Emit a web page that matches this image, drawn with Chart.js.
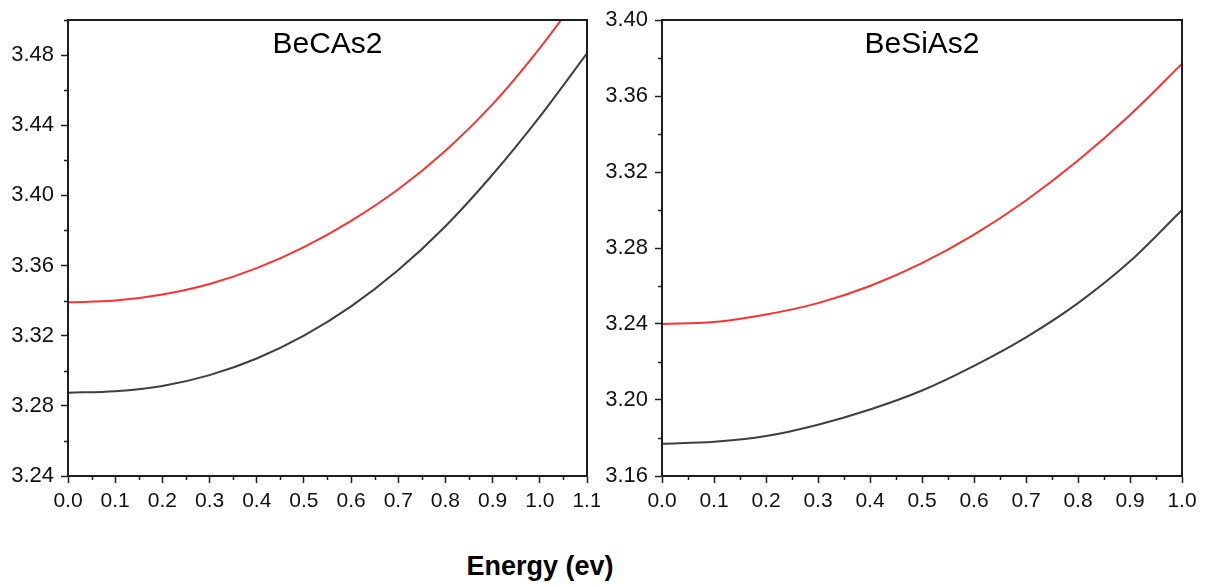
<!DOCTYPE html>
<html>
<head>
<meta charset="utf-8">
<script src="https://cdn.jsdelivr.net/npm/chart.js@4/dist/chart.umd.min.js"></script>
<style>
  body { margin: 0; background: #fff; width: 1216px; height: 587px; position: relative; overflow: hidden; }
  .panel { position: absolute; top: 0; }
  #xlabel {
    position: absolute; left: 0; width: 1080px; top: 553px;
    text-align: center; font: bold 27px "Liberation Sans", Arial, sans-serif;
    line-height: 1; color: #000;
  }
</style>
</head>
<body>
<div class="panel" style="left:0;width:600px;height:530px"><canvas id="chart1"></canvas></div>
<div class="panel" style="left:600px;width:616px;height:530px"><canvas id="chart2"></canvas></div>
<div id="xlabel">Energy (ev)</div>
<script>
// energy grid (eV)
const energyBeCAs2 = [0.0, 0.1, 0.2, 0.3, 0.4, 0.5, 0.6, 0.7, 0.8, 0.9, 1.0, 1.1];
const energyBeSiAs2 = [0.0, 0.1, 0.2, 0.3, 0.4, 0.5, 0.6, 0.7, 0.8, 0.9, 1.0];

// BeCAs2 curves
const becas2Red = [3.339, 3.340, 3.3435, 3.3495, 3.3585, 3.3705, 3.3855, 3.4035, 3.4255, 3.452, 3.484, 3.520];
const becas2Black = [3.2875, 3.2883, 3.2913, 3.2975, 3.307, 3.320, 3.3367, 3.3574, 3.3824, 3.4119, 3.4449, 3.481];

// BeSiAs2 curves
const besias2Red = [3.240, 3.241, 3.245, 3.251, 3.260, 3.272, 3.287, 3.305, 3.326, 3.350, 3.377];
const besias2Black = [3.177, 3.178, 3.181, 3.187, 3.195, 3.205, 3.218, 3.233, 3.251, 3.273, 3.300];

const FONT = '"Liberation Sans", Arial, sans-serif';
const AXIS = '#1e1e1e';

function points(xs, ys) {
  return xs.map((x, i) => ({ x: x, y: ys[i] }));
}

// closed frame, minor ticks and the panel name inside the plot
const framePlugin = {
  id: 'frame',
  afterDraw(chart, args, opts) {
    const ctx = chart.ctx;
    const a = chart.chartArea;
    const xs = chart.scales.x;
    const ys = chart.scales.y;
    ctx.save();
    ctx.strokeStyle = AXIS;
    ctx.lineWidth = 2;
    ctx.strokeRect(a.left, a.top, a.right - a.left, a.bottom - a.top);

    ctx.lineWidth = 1.5;
    ctx.beginPath();
    for (let v = xs.min + opts.minorX; v < xs.max + 1e-9; v += opts.minorX * 2) {
      const px = Math.round(xs.getPixelForValue(v)) + 0.5;
      ctx.moveTo(px, a.bottom);
      ctx.lineTo(px, a.bottom + 4);
    }
    for (let v = ys.min + opts.minorY; v < ys.max + 1e-9; v += opts.minorY * 2) {
      const py = Math.round(ys.getPixelForValue(v)) + 0.5;
      ctx.moveTo(a.left, py);
      ctx.lineTo(a.left - 4, py);
    }
    ctx.stroke();

    ctx.fillStyle = '#000';
    ctx.font = '30px ' + FONT;
    ctx.textAlign = 'center';
    ctx.textBaseline = 'alphabetic';
    ctx.fillText(opts.name, (a.left + a.right) / 2, a.top + 33);
    ctx.restore();
  }
};

function makeChart(id, name, xs, red, black, xMax, yMin, yMax, yWidth, padRight) {
  return new Chart(document.getElementById(id), {
    type: 'line',
    data: {
      datasets: [
        { label: 'curve 1', data: points(xs, red), borderColor: '#ff3030', borderWidth: 2,
          pointRadius: 0, cubicInterpolationMode: 'monotone' },
        { label: 'curve 2', data: points(xs, black), borderColor: '#3f3f3f', borderWidth: 2,
          pointRadius: 0, cubicInterpolationMode: 'monotone' }
      ]
    },
    options: {
      animation: false,
      responsive: true,
      maintainAspectRatio: false,
      layout: { padding: { top: 20, right: padRight, bottom: 0, left: 0 } },
      plugins: {
        legend: { display: false },
        tooltip: { enabled: false },
        frame: { name: name, minorX: 0.05, minorY: 0.02 }
      },
      scales: {
        x: {
          type: 'linear',
          min: 0, max: xMax,
          grid: { drawOnChartArea: false, drawTicks: true, tickLength: 7, tickColor: AXIS, tickWidth: 1.5 },
          border: { display: true, color: AXIS, width: 2 },
          ticks: {
            stepSize: 0.1, autoSkip: false, maxRotation: 0, padding: 6,
            color: '#111', font: { family: FONT, size: 21 },
            callback: v => Number(v).toFixed(1)
          },
          afterFit: s => { s.height = 54; s.paddingLeft = 0; s.paddingRight = 0; }
        },
        y: {
          min: yMin, max: yMax,
          grid: { drawOnChartArea: false, drawTicks: true, tickLength: 7, tickColor: AXIS, tickWidth: 1.5 },
          border: { display: true, color: AXIS, width: 2 },
          ticks: {
            stepSize: 0.04, includeBounds: false, padding: 7,
            color: '#111', font: { family: FONT, size: 22 },
            callback: v => Number(v).toFixed(2)
          },
          afterFit: s => { s.width = yWidth; s.paddingTop = 0; s.paddingBottom = 0; }
        }
      }
    },
    plugins: [framePlugin]
  });
}

makeChart('chart1', 'BeCAs2', energyBeCAs2, becas2Red, becas2Black, 1.1, 3.24, 3.50, 68, 13);
makeChart('chart2', 'BeSiAs2', energyBeSiAs2, besias2Red, besias2Black, 1.0, 3.16, 3.40, 62, 34);
</script>
</body>
</html>
